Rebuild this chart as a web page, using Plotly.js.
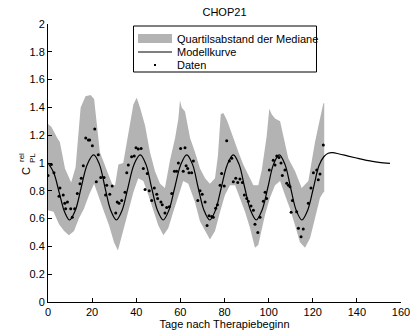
<!DOCTYPE html>
<html>
<head>
<meta charset="utf-8">
<script src="https://cdn.plot.ly/plotly-3.0.1.min.js"></script>
<style>html,body{margin:0;padding:0;background:#fff;}#chart{width:412px;height:330px;}</style>
</head>
<body>
<div id="chart"></div>
<script>
// Quartile band (upper / lower boundaries)
var upperDays = [0,1.5,4.2,5.4,7.7,10.5,12.5,14.8,17,19.3,20.9,22.4,23.5,26.8,29.3,30.4,31.9,34.1,36.4,38.7,40.2,41.7,44,46.2,48.5,50.8,53,55.3,57.6,59.1,59.8,60.6,62.1,62.9,64.4,66.6,68.9,71.2,73.4,75.7,77,78.3,79.5,81.3,83.5,86.3,88.5,90.8,93.1,95.3,96.9,99.1,100.3,101.4,102.9,105.2,107.4,108.9,112,115,118,121,123.3,124.8,125.2];
var upperVals = [1.28,1.26,1.18,1.15,0.96,0.86,0.97,1.40,1.48,1.49,1.46,1.22,1.08,0.94,0.84,0.84,0.99,1.00,1.20,1.42,1.47,1.40,1.27,1.08,0.94,0.85,0.82,1.02,1.18,1.32,1.45,1.40,1.37,1.30,1.18,1.08,0.96,0.89,0.85,0.89,1.05,1.35,1.36,1.30,1.20,1.08,0.99,0.91,0.84,0.84,0.95,1.19,1.39,1.35,1.32,1.30,1.14,1.035,0.94,0.82,0.87,1.15,1.32,1.43,1.43];
var lowerDays = [0,2.5,5,7.3,9.5,11.8,14,16.3,18.6,20.9,23.1,25.4,27.7,29.9,31.7,34.1,36.4,38.7,40.9,43.2,45.5,47.7,50,52.3,54.5,56.8,59.1,61.3,63.6,66.6,68.9,71.2,73.4,75.7,78,80.2,82.5,84.8,87,89.3,91.6,93.8,95.3,96.1,98.4,100.6,102.9,105.2,107.4,109.7,112,114.2,116.5,118.8,121,123.3,124.8,125.2];
var lowerVals = [0.66,0.65,0.56,0.51,0.48,0.51,0.60,0.67,0.77,0.85,0.75,0.65,0.55,0.43,0.37,0.51,0.65,0.79,0.89,0.87,0.77,0.67,0.55,0.48,0.53,0.65,0.77,0.87,0.85,0.72,0.58,0.51,0.45,0.51,0.65,0.77,0.84,0.84,0.75,0.65,0.53,0.39,0.41,0.48,0.63,0.75,0.84,0.87,0.77,0.67,0.55,0.43,0.39,0.46,0.60,0.75,0.79,0.79];

// Model curve
var modelDays = [0,2.6,5.2,7.6,9.8,12.4,15,17.8,20.7,23.3,25.9,28.4,31,33.6,36.2,39,41.8,44.4,47,49.6,52.2,54.8,57.4,60.2,62.9,65.5,68.1,70.7,73.3,75.9,78.5,81.3,84,86.6,89.2,91.8,94.4,97,99.6,102.2,104.8,107.4,110,112.5,115.1,117.7,120.3,122.8,125,127,129,132,136,141,146,150,155];
var modelVals = [1.00,0.93,0.78,0.645,0.59,0.66,0.82,0.99,1.058,0.99,0.82,0.66,0.59,0.66,0.82,0.99,1.058,0.99,0.82,0.66,0.59,0.66,0.82,0.99,1.058,0.99,0.82,0.66,0.59,0.66,0.82,0.99,1.058,0.99,0.82,0.66,0.59,0.66,0.82,0.99,1.058,0.99,0.82,0.66,0.59,0.66,0.82,0.98,1.045,1.07,1.074,1.065,1.05,1.032,1.015,1.004,0.998];

// Data points
var dataDays = [0,1.5,2.7,5.0,5.4,6.9,7.6,8.0,8.8,10.3,11.0,12.1,13.3,14.5,15.1,16.0,17.1,18.3,18.9,20.1,21.2,21.9,22.8,23.9,25.4,26.1,26.6,28.0,29.1,30.7,31.4,
  32.2,33.4,34.9,35.7,36.4,37.9,39.1,39.9,40.9,42.2,43.2,44.0,45.0,45.9,47.0,48.2,49.3,49.7,51.2,51.8,53.0,53.8,55.0,56.1,57.3,58.3,59.1,60.1,61.3,62.1,62.6,63.3,
  63.9,65.1,65.9,67.9,68.9,69.9,71.2,72.1,73.0,74.2,74.9,76.0,76.8,78.0,78.7,79.9,81.0,82.2,83.3,84.0,85.1,86.0,87.0,88.1,89.0,90.1,90.8,92.0,93.1,93.8,95.1,
  96.1,97.6,98.4,99.1,100.3,102.1,102.9,103.7,104.7,105.6,106.2,107.4,108.2,109.0,109.7,110.2,110.8,112.7,113.5,114.7,115.7,118.0,119.2,120.3,121.8,122.5,123.3,124.8];
var dataVals = [0.91,0.99,0.93,0.76,0.82,0.77,0.71,0.67,0.72,0.67,0.61,0.67,0.78,0.85,0.89,0.98,1.18,1.165,1.165,1.125,1.245,0.865,1.06,0.895,0.895,0.77,0.84,0.775,0.835,0.64,0.72,
  0.71,0.73,0.79,0.93,0.985,1.045,1.05,1.11,1.10,1.105,0.96,0.81,0.925,0.80,0.73,0.82,0.775,0.745,0.72,0.70,0.64,0.68,0.685,0.78,0.94,0.94,1.0,1.105,0.94,1.11,0.98,0.96,
  0.93,0.93,1.015,0.73,0.80,0.775,0.72,0.55,0.62,0.615,0.61,0.675,0.70,0.84,0.925,0.835,1.16,1.015,1.035,0.865,0.89,0.86,0.885,0.86,0.77,0.745,0.725,0.69,0.66,0.56,0.50,
  0.61,0.725,0.79,0.745,0.95,1.02,0.985,1.05,1.04,1.0,0.91,0.95,0.855,0.84,0.83,0.645,0.73,0.65,0.53,0.47,0.525,0.71,0.82,0.93,0.95,0.88,0.92,1.13];

var legendLabels = ['Quartilsabstand der Mediane','Modellkurve','Daten'];
var titleText = 'CHOP21';
var xTitle = 'Tage nach Therapiebeginn';

var bandX = upperDays.concat(lowerDays.slice().reverse());
var bandY = upperVals.concat(lowerVals.slice().reverse());

var FONT = 'Liberation Sans, Arial, Helvetica, sans-serif';

var traces = [
  {x: bandX, y: bandY, type: 'scatter', mode: 'lines', fill: 'toself', fillcolor: '#b3b3b3',
   line: {width: 0, color: '#b3b3b3'}, hoverinfo: 'skip', showlegend: false},
  {x: modelDays, y: modelVals, type: 'scatter', mode: 'lines', line: {color: '#000', width: 1.2, shape: 'spline', smoothing: 1},
   showlegend: false},
  {x: dataDays, y: dataVals, type: 'scatter', mode: 'markers', marker: {color: '#000', size: 3}, showlegend: false}
];

// helpers to place legend in paper coords from pixel positions of plot area (l=48,t=24,w=353,h=278)
function px(x){ return (x-48)/353; }
function py(y){ return (302-y)/278; }

var layout = {
  width: 412, height: 330,
  margin: {l: 48, r: 11, t: 24, b: 28},
  paper_bgcolor: '#fff', plot_bgcolor: '#fff',
  font: {family: FONT, size: 11, color: '#000'},
  title: {text: titleText, font: {family: FONT, size: 11, color: '#000'}, x: 0.5, xref: 'paper', y: 1-12/330, yref: 'container', yanchor: 'middle'},
  showlegend: false,
  xaxis: {range: [0,160], dtick: 20, tick0: 0, ticks: 'inside', ticklen: 4, tickcolor: '#000', showline: true, linecolor: '#000', linewidth: 1,
          showgrid: false, zeroline: false, tickfont: {family: FONT, size: 11, color: '#000'},
          title: {text: xTitle, font: {family: FONT, size: 11, color: '#000'}, standoff: 1}},
  yaxis: {range: [0,2], dtick: 0.2, tick0: 0, ticks: 'inside', ticklen: 4, tickcolor: '#000', showline: true, linecolor: '#000', linewidth: 1,
          showgrid: false, zeroline: false, tickfont: {family: FONT, size: 11, color: '#000'}},
  shapes: [
    {type: 'rect', xref: 'paper', yref: 'paper', x0: px(133.5), x1: px(316.5), y0: py(72), y1: py(26), line: {color: '#000', width: 1}, fillcolor: '#fff', layer: 'above'},
    {type: 'rect', xref: 'paper', yref: 'paper', x0: px(138), x1: px(172), y0: py(43), y1: py(34), line: {width: 0}, fillcolor: '#b3b3b3', layer: 'above'},
    {type: 'line', xref: 'paper', yref: 'paper', x0: px(138), x1: px(172), y0: py(52), y1: py(52), line: {color: '#000', width: 1}, layer: 'above'},
    {type: 'rect', xref: 'paper', yref: 'paper', x0: px(154), x1: px(156), y0: py(66), y1: py(64), line: {width: 0}, fillcolor: '#000', layer: 'above'}
  ],
  annotations: [
    {xref: 'paper', yref: 'paper', x: px(175), y: py(38.5), xanchor: 'left', yanchor: 'middle', text: legendLabels[0], showarrow: false, font: {family: FONT, size: 11, color: '#000'}},
    {xref: 'paper', yref: 'paper', x: px(175), y: py(52), xanchor: 'left', yanchor: 'middle', text: legendLabels[1], showarrow: false, font: {family: FONT, size: 11, color: '#000'}},
    {xref: 'paper', yref: 'paper', x: px(175), y: py(65), xanchor: 'left', yanchor: 'middle', text: legendLabels[2], showarrow: false, font: {family: FONT, size: 11, color: '#000'}},
    {xref: 'paper', yref: 'paper', x: px(26), y: py(171), xanchor: 'center', yanchor: 'middle', text: 'C', textangle: -90, showarrow: false, font: {family: FONT, size: 11, color: '#000'}},
    {xref: 'paper', yref: 'paper', x: px(21), y: py(158), xanchor: 'center', yanchor: 'middle', text: 'rel', textangle: -90, showarrow: false, font: {family: FONT, size: 8, color: '#000'}},
    {xref: 'paper', yref: 'paper', x: px(32), y: py(158), xanchor: 'center', yanchor: 'middle', text: 'PL', textangle: -90, showarrow: false, font: {family: FONT, size: 8, color: '#000'}}
  ]
};

Plotly.newPlot('chart', traces, layout, {staticPlot: true, displayModeBar: false});
</script>
</body>
</html>
